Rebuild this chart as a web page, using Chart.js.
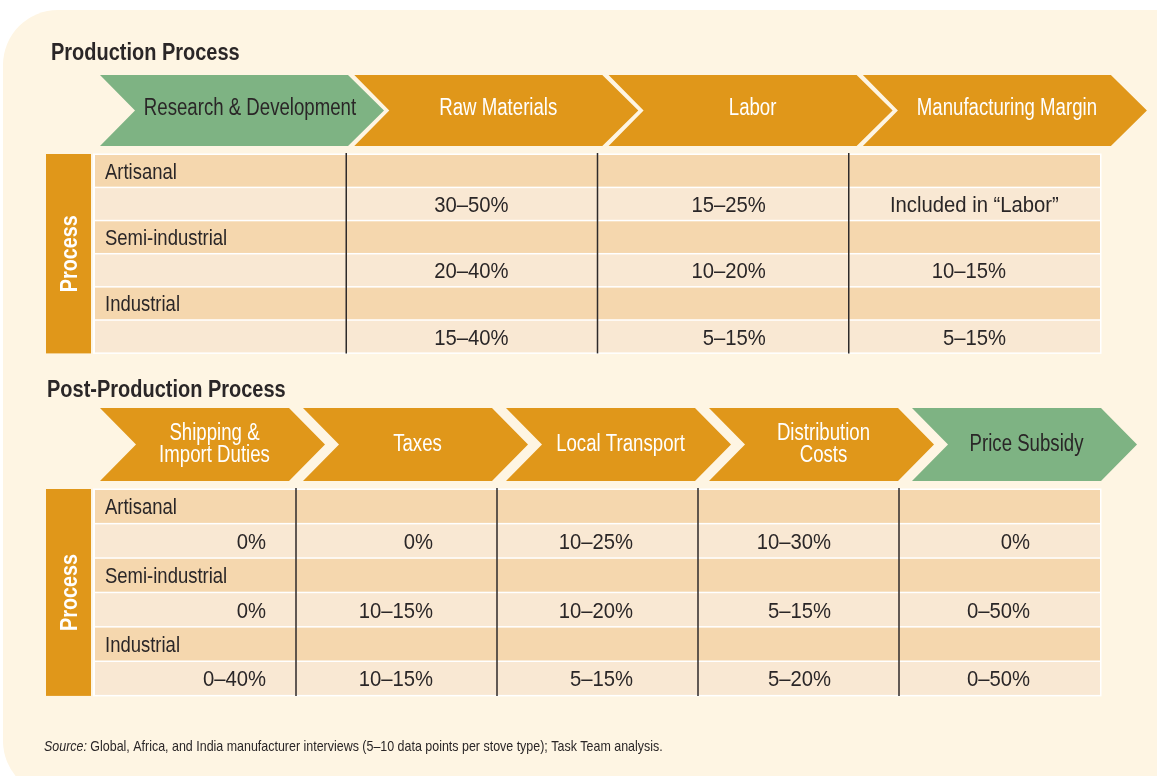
<!DOCTYPE html>
<html><head><meta charset="utf-8">
<script src="https://cdn.jsdelivr.net/npm/chart.js@4/dist/chart.umd.min.js"></script>
<style>html,body{margin:0;padding:0;background:#fff;} canvas{display:block;}</style>
</head><body>
<canvas id="c" width="1157" height="776"></canvas>
<script>
// ---------------- DATA ----------------
const topTitle = "Production Process";
const bottomTitle = "Post-Production Process";
const topStages = [["Research & Development"], ["Raw Materials"], ["Labor"], ["Manufacturing Margin"]];
const topStageHighlight = [true, false, false, false];
const bottomStages = [["Shipping &", "Import Duties"], ["Taxes"], ["Local Transport"], ["Distribution", "Costs"], ["Price Subsidy"]];
const bottomStageHighlight = [false, false, false, false, true];
const processTypes = ["Artisanal", "Semi-industrial", "Industrial"];
const axisLabel = "Process";
const topValues = [
  ["30–50%", "15–25%", "Included in “Labor”"],
  ["20–40%", "10–20%", "10–15%"],
  ["15–40%", "5–15%", "5–15%"]
];
const bottomValues = [
  ["0%", "0%", "10–25%", "10–30%", "0%"],
  ["0%", "10–15%", "10–20%", "5–15%", "0–50%"],
  ["0–40%", "10–15%", "5–15%", "5–20%", "0–50%"]
];
const sourceLabel = "Source:";
const sourceText = " Global, Africa, and India manufacturer interviews (5–10 data points per stove type); Task Team analysis.";

// ---------------- LAYOUT / STYLE ----------------
const FONT = '"Liberation Sans", Arial, "DejaVu Sans", sans-serif';
const LABEL_SX = 0.84, VALUE_SX = 0.9;
const COLORS = {
  panel: '#FEF5E3', orange: '#E0971A', green: '#7EB383', labelRow: '#F5D7AE', valueRow: '#F9E8D3',
  text: '#2A2627', white: '#FFFFFF', divider: '#2E2A2A'
};
const LAYOUT = {
  panel: { x: 3, y: 10, r: 55 },
  sections: [
    { title: topTitle, titleX: 51, titleBase: 60, stages: topStages, hi: topStageHighlight,
      chevY0: 75, chevY1: 146, chevX0: 100, chevPitch: 254.3, chevBody: 248, chevTip: 36, chevNotch: 35, textDy: 4.5, textDx: 2,
      tableX0: 95, tableX1: 1100, tableY0: 155, rowPitch: 33.15, cols: 4, valueCol0: 1,
      anchors: [89, 83, 94], values: topValues, barX0: 46, barX1: 91 },
    { title: bottomTitle, titleX: 47, titleBase: 397, stages: bottomStages, hi: bottomStageHighlight,
      chevY0: 408, chevY1: 481, chevX0: 100, chevPitch: 203, chevBody: 189, chevTip: 36, chevNotch: 36, textDy: 6.5, textDx: 2,
      tableX0: 95, tableX1: 1100, tableY0: 490, rowPitch: 34.4, cols: 5, valueCol0: 0,
      anchors: [30, 64, 65, 68, 70], values: bottomValues, barX0: 46, barX1: 91 }
  ],
  sourceX: 44, sourceBase: 751
};

function drawText(ctx, s, x, y, font, align, sx) {
  ctx.save();
  ctx.font = font;
  ctx.textAlign = align;
  ctx.textBaseline = 'alphabetic';
  ctx.translate(x, y);
  ctx.scale(sx, 1);
  ctx.fillText(s, 0, 0);
  ctx.restore();
}

const tablePlugin = {
  id: 'tablePlugin',
  afterDraw(chart) {
    const ctx = chart.ctx;
    const xs = chart.scales.x, ys = chart.scales.y;
    const X = v => xs.getPixelForValue(v);
    const Y = v => ys.getPixelForValue(v);
    ctx.save();
    // panel background
    const p = LAYOUT.panel;
    ctx.fillStyle = COLORS.panel;
    ctx.beginPath();
    ctx.roundRect(X(p.x), Y(p.y), X(1157) - X(p.x) + 100, Y(776) - Y(p.y) + 20, [p.r, 0, 0, p.r]);
    ctx.fill();

    LAYOUT.sections.forEach((s, si) => {
      // title
      ctx.fillStyle = COLORS.text;
      drawText(ctx, s.title, X(s.titleX), Y(s.titleBase), 'bold 23.5px ' + FONT, 'left', 0.85);
      // chevrons
      const ym = (s.chevY0 + s.chevY1) / 2;
      s.stages.forEach((lines, i) => {
        const l = s.chevX0 + i * s.chevPitch;
        ctx.fillStyle = s.hi[i] ? COLORS.green : COLORS.orange;
        ctx.beginPath();
        ctx.moveTo(X(l), Y(s.chevY0));
        ctx.lineTo(X(l + s.chevBody), Y(s.chevY0));
        ctx.lineTo(X(l + s.chevBody + s.chevTip), Y(ym));
        ctx.lineTo(X(l + s.chevBody), Y(s.chevY1));
        ctx.lineTo(X(l), Y(s.chevY1));
        ctx.lineTo(X(l + s.chevNotch), Y(ym));
        ctx.closePath();
        ctx.fill();
        ctx.fillStyle = s.hi[i] ? COLORS.text : COLORS.white;
        // first stage label sits slightly right of its chevron centre in the reference
        const cx = l + (s.chevBody + s.chevTip) / 2 + s.textDx + (si === 0 && i === 0 ? 6 : 0);
        const lh = 22;
        lines.forEach((t, k) => {
          const yy = ym + s.textDy + (k - (lines.length - 1) / 2) * lh;
          drawText(ctx, t, X(cx), Y(yy), '23px ' + FONT, 'center', 0.81);
        });
      });
      // table
      const nRows = processTypes.length * 2;
      const rh = s.rowPitch - 1.5;
      const tY1 = s.tableY0 + nRows * s.rowPitch - 1.5;
      ctx.fillStyle = COLORS.white;
      ctx.fillRect(X(s.tableX0 - 2), Y(s.tableY0 - 1.5), X(s.tableX1 + 1.5) - X(s.tableX0 - 2), Y(tY1 + 1.5) - Y(s.tableY0 - 1.5));
      for (let r = 0; r < nRows; r++) {
        const y0 = s.tableY0 + r * s.rowPitch;
        ctx.fillStyle = r % 2 === 0 ? COLORS.labelRow : COLORS.valueRow;
        ctx.fillRect(X(s.tableX0), Y(y0), X(s.tableX1) - X(s.tableX0), Y(y0 + rh) - Y(y0));
      }
      // process bar
      ctx.fillStyle = COLORS.orange;
      ctx.fillRect(X(s.barX0), Y(s.tableY0 - 1), X(s.barX1) - X(s.barX0), Y(tY1 + 1) - Y(s.tableY0 - 1));
      ctx.save();
      ctx.translate(X((s.barX0 + s.barX1) / 2), Y((s.tableY0 + tY1) / 2));
      ctx.rotate(-Math.PI / 2);
      ctx.fillStyle = COLORS.white;
      drawText(ctx, axisLabel, 0, 8, 'bold 23px ' + FONT, 'center', 0.86);
      ctx.restore();
      // column dividers
      const cw = (s.tableX1 - s.tableX0) / s.cols;
      ctx.strokeStyle = COLORS.divider; ctx.lineWidth = 1.5;
      for (let c = 1; c < s.cols; c++) {
        const x = s.tableX0 + c * cw;
        ctx.beginPath();
        ctx.moveTo(X(x), Y(s.tableY0 - 2));
        ctx.lineTo(X(x), Y(tY1 + 1));
        ctx.stroke();
      }
      // labels & values
      ctx.fillStyle = COLORS.text;
      const cellFont = '22.5px ' + FONT;
      processTypes.forEach((name, i) => {
        const yl = s.tableY0 + (2 * i) * s.rowPitch + rh / 2 + 8;
        drawText(ctx, name, X(s.tableX0 + 10), Y(yl), '22px ' + FONT, 'left', LABEL_SX);
        const yv = s.tableY0 + (2 * i + 1) * s.rowPitch + rh / 2 + 8;
        s.values[i].forEach((v, j) => {
          const c = s.valueCol0 + j;
          const cl = s.tableX0 + c * cw, cr = cl + cw;
          const anchor = cr - s.anchors[j];
          ctx.font = cellFont;
          const w = ctx.measureText(v).width * VALUE_SX;
          if (anchor - w < cl + 10) {
            drawText(ctx, v, X((cl + cr) / 2), Y(yv), cellFont, 'center', VALUE_SX);
          } else {
            drawText(ctx, v, X(anchor), Y(yv), cellFont, 'right', VALUE_SX);
          }
        });
      });
    });
    // source
    ctx.fillStyle = COLORS.text;
    const SSX = 0.83;
    const sf = 'italic 15px ' + FONT, nf = '15px ' + FONT;
    drawText(ctx, sourceLabel, X(LAYOUT.sourceX), Y(LAYOUT.sourceBase), sf, 'left', SSX);
    ctx.font = sf;
    const sw = ctx.measureText(sourceLabel).width * SSX;
    drawText(ctx, sourceText, X(LAYOUT.sourceX) + sw, Y(LAYOUT.sourceBase), nf, 'left', SSX);
    ctx.restore();
  }
};

new Chart(document.getElementById('c'), {
  type: 'scatter',
  data: { datasets: [{ data: [], pointRadius: 0 }] },
  options: {
    responsive: false, animation: false, devicePixelRatio: 1,
    layout: { padding: 0 },
    plugins: { legend: { display: false }, tooltip: { enabled: false } },
    scales: {
      x: { type: 'linear', min: 0, max: 1157, display: false },
      y: { type: 'linear', min: 0, max: 776, reverse: true, display: false }
    }
  },
  plugins: [tablePlugin]
});
</script>
</body></html>
